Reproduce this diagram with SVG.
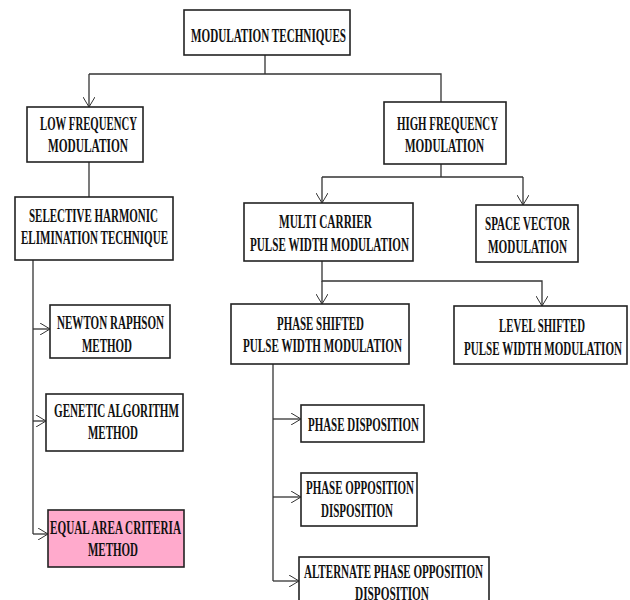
<svg xmlns="http://www.w3.org/2000/svg" width="630" height="600" viewBox="0 0 630 600">
<style>
.box{fill:#ffffff;stroke:#222222;stroke-width:1.6}
.pink{fill:#ffaacc}
.t{font-family:"Liberation Serif","Times New Roman",serif;font-weight:bold;font-size:19px;fill:#111111}
.c{fill:none;stroke:#333333;stroke-width:1.3}
</style>
<defs>
<marker id="ah" viewBox="0 0 10 12" refX="10" refY="6" markerWidth="10" markerHeight="12" markerUnits="userSpaceOnUse" orient="auto">
<path d="M0,0 L10,6 L0,12" fill="none" stroke="#333333" stroke-width="1"/>
</marker>
</defs>
<rect width="630" height="600" fill="#ffffff"/>
<g id="connectors">
<path class="c" d="M265,55 V74 M89,74 H441 V102"/>
<path class="c" d="M89,74 V107" marker-end="url(#ah)"/>
<path class="c" d="M89,162 V197"/>
<path class="c" d="M441,164 V177 M322,177 H523"/>
<path class="c" d="M322,177 V203" marker-end="url(#ah)"/>
<path class="c" d="M523,177 V205" marker-end="url(#ah)"/>
<path class="c" d="M322,261 V281 H542 V306" marker-end="url(#ah)"/>
<path class="c" d="M322,281 V304" marker-end="url(#ah)"/>
<path class="c" d="M33,260 V534"/>
<path class="c" d="M33,329 H50" marker-end="url(#ah)"/>
<path class="c" d="M33,421 H46" marker-end="url(#ah)"/>
<path class="c" d="M33,534 H48" marker-end="url(#ah)"/>
<path class="c" d="M273,364 V581"/>
<path class="c" d="M273,419 H301" marker-end="url(#ah)"/>
<path class="c" d="M273,497 H301" marker-end="url(#ah)"/>
<path class="c" d="M273,581 H299" marker-end="url(#ah)"/>
</g>
<g id="modulation-techniques">
<rect class="box" x="184" y="10" width="166" height="45"/>
<text class="t" x="191" y="42" textLength="155" lengthAdjust="spacingAndGlyphs">MODULATION TECHNIQUES</text>
</g>
<g id="low-frequency">
<rect class="box" x="27" y="107" width="116" height="55"/>
<text class="t" x="40" y="130" textLength="97" lengthAdjust="spacingAndGlyphs">LOW FREQUENCY</text>
<text class="t" x="48" y="152" textLength="80" lengthAdjust="spacingAndGlyphs">MODULATION</text>
</g>
<g id="high-frequency">
<rect class="box" x="384" y="102" width="122" height="62"/>
<text class="t" x="397" y="130" textLength="101" lengthAdjust="spacingAndGlyphs">HIGH FREQUENCY</text>
<text class="t" x="405" y="152" textLength="79" lengthAdjust="spacingAndGlyphs">MODULATION</text>
</g>
<g id="selective-harmonic">
<rect class="box" x="15" y="197" width="158" height="63"/>
<text class="t" x="29" y="222" textLength="129" lengthAdjust="spacingAndGlyphs">SELECTIVE HARMONIC</text>
<text class="t" x="21" y="244" textLength="147" lengthAdjust="spacingAndGlyphs">ELIMINATION TECHNIQUE</text>
</g>
<g id="multi-carrier">
<rect class="box" x="244" y="203" width="169" height="58"/>
<text class="t" x="279" y="228" textLength="93" lengthAdjust="spacingAndGlyphs">MULTI CARRIER</text>
<text class="t" x="250" y="251" textLength="159" lengthAdjust="spacingAndGlyphs">PULSE WIDTH MODULATION</text>
</g>
<g id="space-vector">
<rect class="box" x="476" y="205" width="102" height="57"/>
<text class="t" x="485" y="230" textLength="85" lengthAdjust="spacingAndGlyphs">SPACE VECTOR</text>
<text class="t" x="488" y="253" textLength="79" lengthAdjust="spacingAndGlyphs">MODULATION</text>
</g>
<g id="newton-raphson">
<rect class="box" x="50" y="305" width="120" height="53"/>
<text class="t" x="57" y="329" textLength="107" lengthAdjust="spacingAndGlyphs">NEWTON RAPHSON</text>
<text class="t" x="82" y="352" textLength="50" lengthAdjust="spacingAndGlyphs">METHOD</text>
</g>
<g id="phase-shifted">
<rect class="box" x="231" y="304" width="178" height="60"/>
<text class="t" x="277" y="330" textLength="87" lengthAdjust="spacingAndGlyphs">PHASE SHIFTED</text>
<text class="t" x="243" y="352" textLength="159" lengthAdjust="spacingAndGlyphs">PULSE WIDTH MODULATION</text>
</g>
<g id="level-shifted">
<rect class="box" x="454" y="306" width="173" height="58"/>
<text class="t" x="499" y="332" textLength="86" lengthAdjust="spacingAndGlyphs">LEVEL SHIFTED</text>
<text class="t" x="464" y="355" textLength="158" lengthAdjust="spacingAndGlyphs">PULSE WIDTH MODULATION</text>
</g>
<g id="genetic-algorithm">
<rect class="box" x="46" y="394" width="137" height="57"/>
<text class="t" x="54" y="417" textLength="125" lengthAdjust="spacingAndGlyphs">GENETIC ALGORITHM</text>
<text class="t" x="88" y="439" textLength="50" lengthAdjust="spacingAndGlyphs">METHOD</text>
</g>
<g id="equal-area">
<rect class="box pink" x="48" y="510" width="136" height="57"/>
<text class="t" x="50" y="534" textLength="131" lengthAdjust="spacingAndGlyphs">EQUAL AREA CRITERIA</text>
<text class="t" x="88" y="556" textLength="50" lengthAdjust="spacingAndGlyphs">METHOD</text>
</g>
<g id="phase-disposition">
<rect class="box" x="301" y="405" width="123" height="37"/>
<text class="t" x="308" y="431" textLength="111" lengthAdjust="spacingAndGlyphs">PHASE DISPOSITION</text>
</g>
<g id="phase-opposition">
<rect class="box" x="301" y="473" width="116" height="53"/>
<text class="t" x="306" y="494" textLength="108" lengthAdjust="spacingAndGlyphs">PHASE OPPOSITION</text>
<text class="t" x="321" y="517" textLength="72" lengthAdjust="spacingAndGlyphs">DISPOSITION</text>
</g>
<g id="alternate-phase-opposition">
<rect class="box" x="299" y="557" width="190" height="60"/>
<text class="t" x="304" y="578" textLength="179" lengthAdjust="spacingAndGlyphs">ALTERNATE PHASE OPPOSITION</text>
<text class="t" x="355" y="600" textLength="74" lengthAdjust="spacingAndGlyphs">DISPOSITION</text>
</g>
</svg>
